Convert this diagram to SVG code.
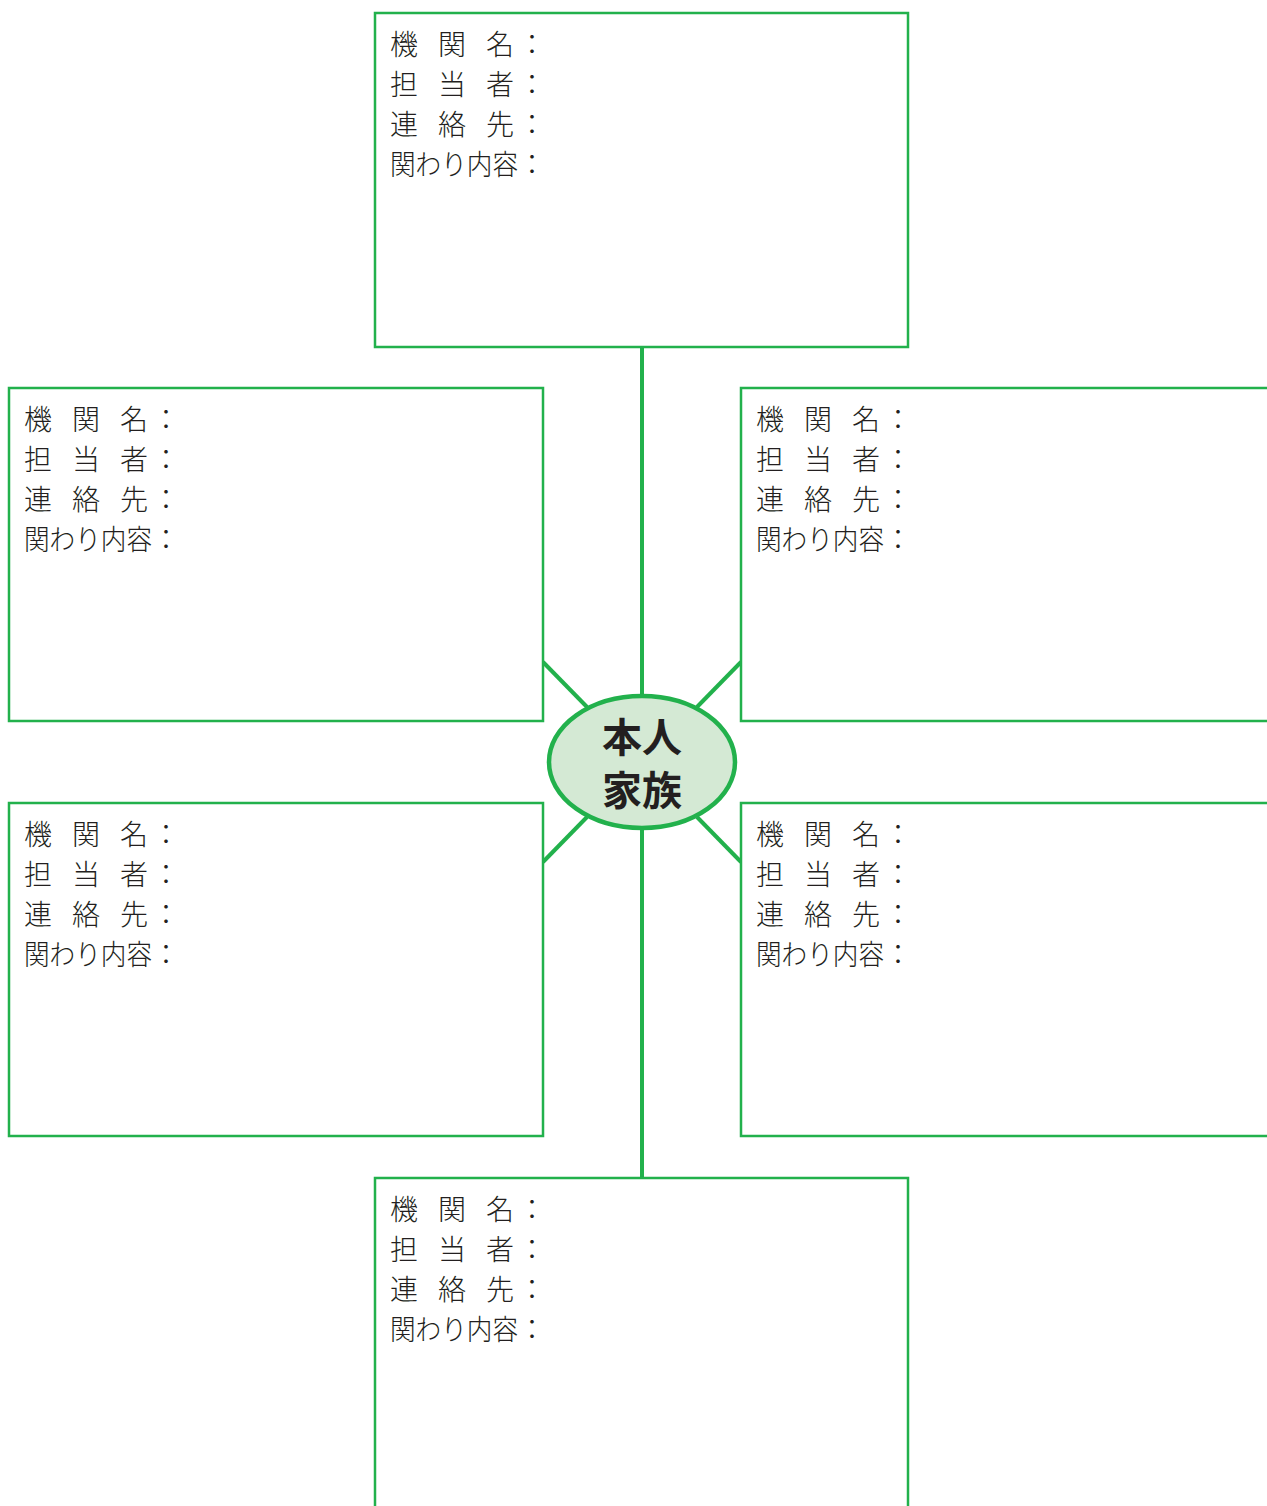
<svg xmlns="http://www.w3.org/2000/svg" width="1267" height="1506" viewBox="0 0 1267 1506">
<style>
.box{fill:#fff;stroke:#22b14c;stroke-width:2.5}
.con{stroke:#22b14c;stroke-width:4;fill:none}
.t{font-family:"Noto Sans CJK JP","Noto Sans CJK SC",sans-serif;font-size:28px;font-weight:300;fill:#231f20}
.c{font-family:"Noto Sans CJK JP","Noto Sans CJK SC",sans-serif;font-size:40px;font-weight:bold;fill:#231f20;text-anchor:middle}
</style>
<defs>
<g id="lbl">
<text class="t" y="0"><tspan x="0">機</tspan><tspan x="48">関</tspan><tspan x="96">名</tspan><tspan x="128">：</tspan></text>
<text class="t" y="40"><tspan x="0">担</tspan><tspan x="48">当</tspan><tspan x="96">者</tspan><tspan x="128">：</tspan></text>
<text class="t" y="80"><tspan x="0">連</tspan><tspan x="48">絡</tspan><tspan x="96">先</tspan><tspan x="128">：</tspan></text>
<text class="t" y="120" x="0" textLength="128" lengthAdjust="spacingAndGlyphs">関わり内容</text>
<text class="t" y="120" x="128">：</text>
</g>
</defs>
<rect width="1267" height="1506" fill="#fff"/>
<g id="connectors">
<line class="con" x1="642" y1="347" x2="642" y2="700"/>
<line class="con" x1="642" y1="824" x2="642" y2="1178"/>
<line class="con" x1="543" y1="662" x2="587" y2="707"/>
<line class="con" x1="741" y1="662" x2="697" y2="707"/>
<line class="con" x1="543" y1="862" x2="587" y2="817"/>
<line class="con" x1="741" y1="862" x2="697" y2="817"/>
</g>
<g id="box-top">
<rect class="box" x="375" y="13" width="533" height="334"/>
<use href="#lbl" x="390" y="55"/>
</g>
<g id="box-mid-left">
<rect class="box" x="9" y="388" width="534" height="333"/>
<use href="#lbl" x="24" y="430"/>
</g>
<g id="box-mid-right">
<rect class="box" x="741" y="388" width="540" height="333"/>
<use href="#lbl" x="756" y="430"/>
</g>
<g id="box-low-left">
<rect class="box" x="9" y="803" width="534" height="333"/>
<use href="#lbl" x="24" y="845"/>
</g>
<g id="box-low-right">
<rect class="box" x="741" y="803" width="540" height="333"/>
<use href="#lbl" x="756" y="845"/>
</g>
<g id="box-bottom">
<rect class="box" x="375" y="1178" width="533" height="340"/>
<use href="#lbl" x="390" y="1220"/>
</g>
<g id="center">
<ellipse cx="642" cy="762" rx="93" ry="66" fill="#d4e9d4" stroke="#22b14c" stroke-width="4.5"/>
<text class="c" x="642" y="752">本人</text>
<text class="c" x="642" y="805">家族</text>
</g>
</svg>
